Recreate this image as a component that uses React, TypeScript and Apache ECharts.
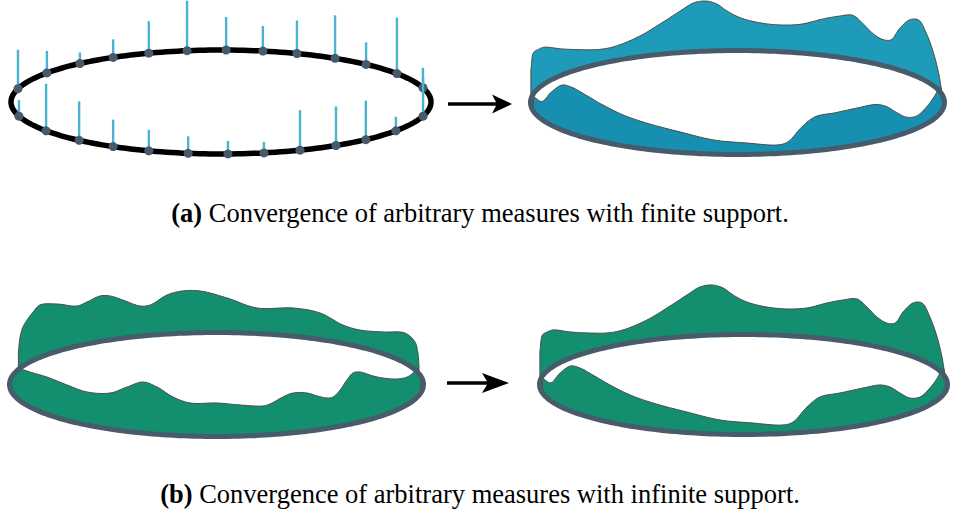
import React, { useEffect, useRef } from "react";
import * as echarts from "echarts";

// (a) left: finite support — angle of each support point on the rim (deg) and its mass (px)
const STICK_ANGLES = [165.2, 146, 132.2, 120.9, 110.1, 99.3, 88.6, 78.5, 68.8, 57.1, 46.3, 33.1, 15.9,
  195.8, 213.6, 227.5, 239.1, 249.9, 261, 271.9, 281.8, 292.1, 303.2, 313.6, 326.4, 344.2];
const STICK_MASS = [39, 22, 11, 18, 32, 50, 33, 25, 33, 43, 22, 56, 20,
  16, 47, 39, 27, 21, 17, 13, 11, 40, 39, 39, 14, 38];

// limit density (right panels): rim position (-1..1) and height, back and front halves
const LIMIT_BACK_POS = [-0.998, -0.985, -0.963, -0.934, -0.85, -0.767, -0.669, -0.591, -0.473, -0.375,
  -0.277, -0.213, -0.154, -0.1, -0.051, 0.017, 0.115, 0.213, 0.311, 0.409,
  0.488, 0.556, 0.605, 0.654, 0.703, 0.743, 0.782, 0.831, 0.875, 0.914,
  0.949, 0.973, 0.985];
const LIMIT_BACK_H = [30, 41, 39, 36.7, 26.2, 19.5, 14.4, 14.2, 20.5, 30.2,
  41.5, 48.7, 50.1, 46.8, 39.6, 32.5, 27.8, 26.7, 29, 35.9,
  40.9, 44, 37.7, 29.7, 25.9, 28, 41.3, 53.7, 57.3, 47.2,
  31.7, 16, 4];
const LIMIT_FRONT_POS = [-0.985, -0.945, -0.9, -0.848, -0.801, -0.738, -0.654, -0.556, -0.444, -0.277,
  -0.115, 0.047, 0.194, 0.243, 0.311, 0.375, 0.473, 0.586, 0.669, 0.718,
  0.767, 0.816, 0.865, 0.914, 0.953, 0.978, 0.99];
const LIMIT_FRONT_H = [15, 18, 33, 45, 46.4, 43.2, 37.3, 31.1, 26.3, 20.5,
  14.2, 11.4, 8.6, 11, 25, 33.9, 35.6, 37, 36.7, 32.3,
  23.6, 15.4, 12.6, 16.8, 22.6, 26.9, 16];

// (b) left: infinite-support measure
const INF_BACK_POS = [-0.957, -0.949, -0.935, -0.915, -0.886, -0.853, -0.771, -0.674, -0.626, -0.563,
  -0.514, -0.452, -0.37, -0.321, -0.239, -0.167, -0.08, 0.051, 0.196, 0.37,
  0.5, 0.611, 0.693, 0.804, 0.911, 0.959, 0.973, 0.978];
const INF_BACK_H = [17, 31, 39, 43.6, 48.4, 52.4, 47.4, 40.1, 41.9, 45.5,
  43.9, 38.1, 30.2, 30.2, 39, 42.2, 41.7, 34.6, 25.5, 28.2,
  26.5, 18.3, 17, 21.6, 30, 27.7, 19.5, 8.7];
const INF_FRONT_POS = [-0.99, -0.949, -0.886, -0.819, -0.722, -0.626, -0.514, -0.432, -0.355, -0.287,
  -0.21, -0.128, 0.002, 0.114, 0.225, 0.258, 0.321, 0.37, 0.437, 0.486,
  0.534, 0.563, 0.597, 0.63, 0.659, 0.693, 0.756, 0.804, 0.872, 0.92,
  0.949, 0.969, 0.985];
const INF_FRONT_H = [14, 30.9, 35.6, 37.3, 35.5, 33.1, 36.1, 44.4, 51.1, 47.3,
  38.4, 33.1, 33.5, 31.2, 29.2, 30.7, 36.8, 39.8, 38.3, 34,
  30.5, 30.5, 36.2, 44.9, 50.6, 50, 42.6, 37.4, 31, 27.8,
  27.9, 29.4, 18];

const CAPTION_A = "Convergence of arbitrary measures with finite support.";
const CAPTION_B = "Convergence of arbitrary measures with infinite support.";

// layout of the four rims
const PANELS = [
  { cx: 221, cy: 102, rx: 210, ry: 52 },
  { cx: 737.5, cy: 102.5, rx: 207, ry: 52 },
  { cx: 216.5, cy: 384.5, rx: 207, ry: 52 },
  { cx: 743.5, cy: 384.5, rx: 204, ry: 50 },
];

const RING = "#475b6b";
const DOT = "#465a6b";
const STICK = "#4bb3d0";
const TEAL_BACK = "#1f9bba";
const TEAL_FRONT = "#168fb0";
const GREEN = "#138f70";
const OUTLINE = "#4a4a4a";

type Pt = number[];

function spline(pts: Pt[], steps: number): Pt[] {
  const n = pts.length;
  if (n < 3) return pts.slice();
  const ext: Pt[] = [
    [2 * pts[0][0] - pts[1][0], 2 * pts[0][1] - pts[1][1]],
    ...pts,
    [2 * pts[n - 1][0] - pts[n - 2][0], 2 * pts[n - 1][1] - pts[n - 2][1]],
  ];
  const d = (a: Pt, b: Pt) => Math.max(Math.sqrt(Math.hypot(b[0] - a[0], b[1] - a[1])), 1e-3);
  const out: Pt[] = [];
  for (let i = 1; i < ext.length - 2; i++) {
    const p0 = ext[i - 1], p1 = ext[i], p2 = ext[i + 1], p3 = ext[i + 2];
    const t0 = 0, t1 = d(p0, p1), t2 = t1 + d(p1, p2), t3 = t2 + d(p2, p3);
    for (let s = 0; s < steps; s++) {
      const t = t1 + ((t2 - t1) * s) / steps;
      const lerp = (a: Pt, b: Pt, ta: number, tb: number): Pt => [
        ((tb - t) / (tb - ta)) * a[0] + ((t - ta) / (tb - ta)) * b[0],
        ((tb - t) / (tb - ta)) * a[1] + ((t - ta) / (tb - ta)) * b[1],
      ];
      const A1 = lerp(p0, p1, t0, t1), A2 = lerp(p1, p2, t1, t2), A3 = lerp(p2, p3, t2, t3);
      const B1 = lerp(A1, A2, t0, t2), B2 = lerp(A2, A3, t1, t3);
      out.push(lerp(B1, B2, t1, t2));
    }
  }
  out.push(pts[n - 1]);
  return out;
}

function wallPoints(api: any, pos: number[], hs: number[], ry: number, side: number): Pt[] {
  const ctrl = pos.map((u, i) => api.coord([u, side * ry * Math.sqrt(Math.max(0, 1 - u * u)) + hs[i]]));
  const pts = spline(ctrl, 10);
  const a0 = Math.acos(pos[pos.length - 1]);
  const a1 = Math.acos(pos[0]);
  const N = 80;
  for (let k = 0; k <= N; k++) {
    const a = a0 + ((a1 - a0) * k) / N;
    pts.push(api.coord([Math.cos(a), side * ry * Math.sin(a)]));
  }
  return pts;
}

function ringPoints(api: any, ry: number): Pt[] {
  const pts: Pt[] = [];
  const N = 240;
  for (let k = 0; k < N; k++) {
    const a = (k / N) * 2 * Math.PI;
    pts.push(api.coord([Math.cos(a), ry * Math.sin(a)]));
  }
  return pts;
}

function densitySeries(i: number, back: [number[], number[]], front: [number[], number[]], backColor: string, frontColor: string) {
  const ry = PANELS[i].ry;
  return {
    type: "custom",
    xAxisIndex: i,
    yAxisIndex: i,
    silent: true,
    data: [[0, 0]],
    renderItem: (_p: any, api: any) => ({
      type: "group",
      children: [
        { type: "polygon", shape: { points: wallPoints(api, back[0], back[1], ry, 1) }, style: { fill: backColor, stroke: OUTLINE, lineWidth: 1 } },
        { type: "polygon", shape: { points: wallPoints(api, front[0], front[1], ry, -1) }, style: { fill: frontColor, stroke: OUTLINE, lineWidth: 1 } },
        { type: "polygon", shape: { points: ringPoints(api, ry) }, style: { fill: "none", stroke: RING, lineWidth: 5 } },
      ],
    }),
  };
}

function caption(label: string, body: string, y: number) {
  const font = "Liberation Serif";
  return {
    type: "text",
    x: 480,
    y,
    style: {
      text: "{b|" + label + "} " + body,
      fontFamily: font,
      fontSize: 26.5,
      fill: "#000",
      align: "center",
      verticalAlign: "middle",
      textAlign: "center",
      textVerticalAlign: "middle",
      rich: { b: { fontWeight: "bold", fontFamily: font, fontSize: 26.5, fill: "#000" } },
    },
  };
}

export default function App() {
  const ref = useRef<HTMLDivElement>(null);
  useEffect(() => {
    if (!ref.current) return;
    const chart = echarts.init(ref.current, null, { renderer: "svg" });
    const grid = PANELS.map((p) => ({ left: p.cx - p.rx, top: p.cy - p.ry, width: 2 * p.rx, height: 2 * p.ry }));
    const xAxis = PANELS.map((_p, i) => ({ type: "value", gridIndex: i, min: -1, max: 1, show: false }));
    const yAxis = PANELS.map((p, i) => ({ type: "value", gridIndex: i, min: -p.ry, max: p.ry, show: false }));
    const ry0 = PANELS[0].ry;
    const stickData = STICK_ANGLES.map((a, i) => [a, STICK_MASS[i]]);
    const option: any = {
      animation: false,
      grid,
      xAxis,
      yAxis,
      series: [
        {
          type: "custom",
          xAxisIndex: 0,
          yAxisIndex: 0,
          silent: true,
          data: [[0, 0]],
          renderItem: (_p: any, api: any) => ({
            type: "polygon",
            shape: { points: ringPoints(api, ry0) },
            style: { fill: "none", stroke: "#000", lineWidth: 5.5 },
          }),
        },
        {
          type: "custom",
          xAxisIndex: 0,
          yAxisIndex: 0,
          silent: true,
          data: stickData,
          renderItem: (_p: any, api: any) => {
            const a = (api.value(0) * Math.PI) / 180;
            const m = api.value(1);
            const base = api.coord([Math.cos(a), ry0 * Math.sin(a)]);
            const top = api.coord([Math.cos(a), ry0 * Math.sin(a) + m]);
            return {
              type: "group",
              children: [
                { type: "line", shape: { x1: base[0], y1: base[1], x2: top[0], y2: top[1] }, style: { stroke: STICK, lineWidth: 2.4 } },
                { type: "circle", shape: { cx: base[0], cy: base[1], r: 4.5 }, style: { fill: DOT } },
              ],
            };
          },
        },
        densitySeries(1, [LIMIT_BACK_POS, LIMIT_BACK_H], [LIMIT_FRONT_POS, LIMIT_FRONT_H], TEAL_BACK, TEAL_FRONT),
        densitySeries(2, [INF_BACK_POS, INF_BACK_H], [INF_FRONT_POS, INF_FRONT_H], GREEN, GREEN),
        densitySeries(3, [LIMIT_BACK_POS, LIMIT_BACK_H], [LIMIT_FRONT_POS, LIMIT_FRONT_H], GREEN, GREEN),
      ],
      graphic: [
        { type: "line", shape: { x1: 448, y1: 104, x2: 500, y2: 104 }, style: { stroke: "#000", lineWidth: 3.5 } },
        { type: "polygon", shape: { points: [[512, 104], [492, 94.5], [497, 104], [492, 113.5]] }, style: { fill: "#000" } },
        { type: "line", shape: { x1: 447, y1: 383, x2: 494, y2: 383 }, style: { stroke: "#000", lineWidth: 3.5 } },
        { type: "polygon", shape: { points: [[509, 383], [482, 373], [488, 383], [482, 393]] }, style: { fill: "#000" } },
        caption("(a)", CAPTION_A, 213),
        caption("(b)", CAPTION_B, 494),
      ],
    };
    chart.setOption(option);
    return () => chart.dispose();
  }, []);
  return <div ref={ref} style={{ position: "absolute", left: 0, top: 0, width: 953, height: 513 }} />;
}
